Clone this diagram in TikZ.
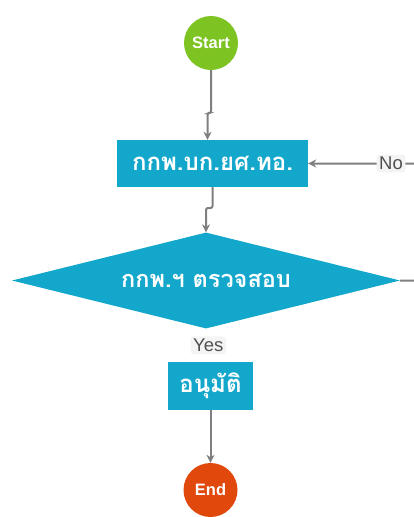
\documentclass[tikz,border=0pt]{standalone}
\usepackage{fontspec}
\setmainfont{Liberation Sans}
\newfontfamily\thaifont[Script=Thai]{Loma}
\usetikzlibrary{shapes.geometric,calc,positioning,arrows.meta}
\tikzset{>={Stealth[length=8pt,width=8pt]}}
\definecolor{startgreen}{HTML}{7DC321}
\definecolor{endred}{HTML}{E1480C}
\definecolor{boxblue}{HTML}{14A7CC}
\definecolor{flowgray}{HTML}{7F7F7F}
\definecolor{labelbg}{HTML}{F4F4F4}
\definecolor{labeltext}{HTML}{505050}
\tikzset{
  terminal/.style={circle,inner sep=0pt,minimum size=54pt,text=white,
    font=\bfseries\fontsize{16.5}{16.5}\selectfont},
  process/.style={rectangle,fill=boxblue,text=white,inner sep=0pt,
    font=\thaifont\bfseries\fontsize{24}{24}\selectfont},
  decision/.style={diamond,fill=boxblue,text=white,inner sep=0pt,
    aspect=4,minimum width=388pt,minimum height=96pt,
    font=\thaifont\bfseries\fontsize{23.5}{23.5}\selectfont},
  flow/.style={draw=flowgray,line width=2pt,->,rounded corners=2pt},
  answer/.style={fill=labelbg,text=labeltext,rounded corners=3pt,inner sep=2.5pt,
    font=\fontsize{18.5}{18.5}\selectfont}
}

\begin{document}
\begin{tikzpicture}[x=1pt,y=-1pt]
\useasboundingbox (0,0) rectangle (414,517);
\clip (0,0) rectangle (414,517);
% nodes
\node [terminal,fill=startgreen] (start) at (211,43) {Start};
\node [process,minimum width=191pt,minimum height=47pt] (record) at (212.5,163.5) {กกพ.บก.ยศ.ทอ.};
\node [decision] (check) at (206,280.5) {กกพ.ฯ ตรวจสอบ};
\node [process,minimum width=85pt,minimum height=48pt] (approve) at (210.5,386) {อนุมัติ};
\node [terminal,fill=endred] (finish) at (210.5,490) {End};
% connectors
\coordinate (jogA) at (207.5,113);
\coordinate (jogB) at (206,208);
\coordinate (loop) at (430,281);
\draw [flow] (start.south) |- (jogA) -- (jogA |- record.north);
\draw [flow] (record.south) |- (jogB) -- (jogB |- check.north);
\path (check.south) -- (approve.north) node [answer,midway] {Yes};
\draw [flow] (approve.south) -- (finish.north);
\draw [flow] (check.east) -- (loop) |- (record.east) node [answer,pos=0.66] {No};
\end{tikzpicture}
\end{document}
